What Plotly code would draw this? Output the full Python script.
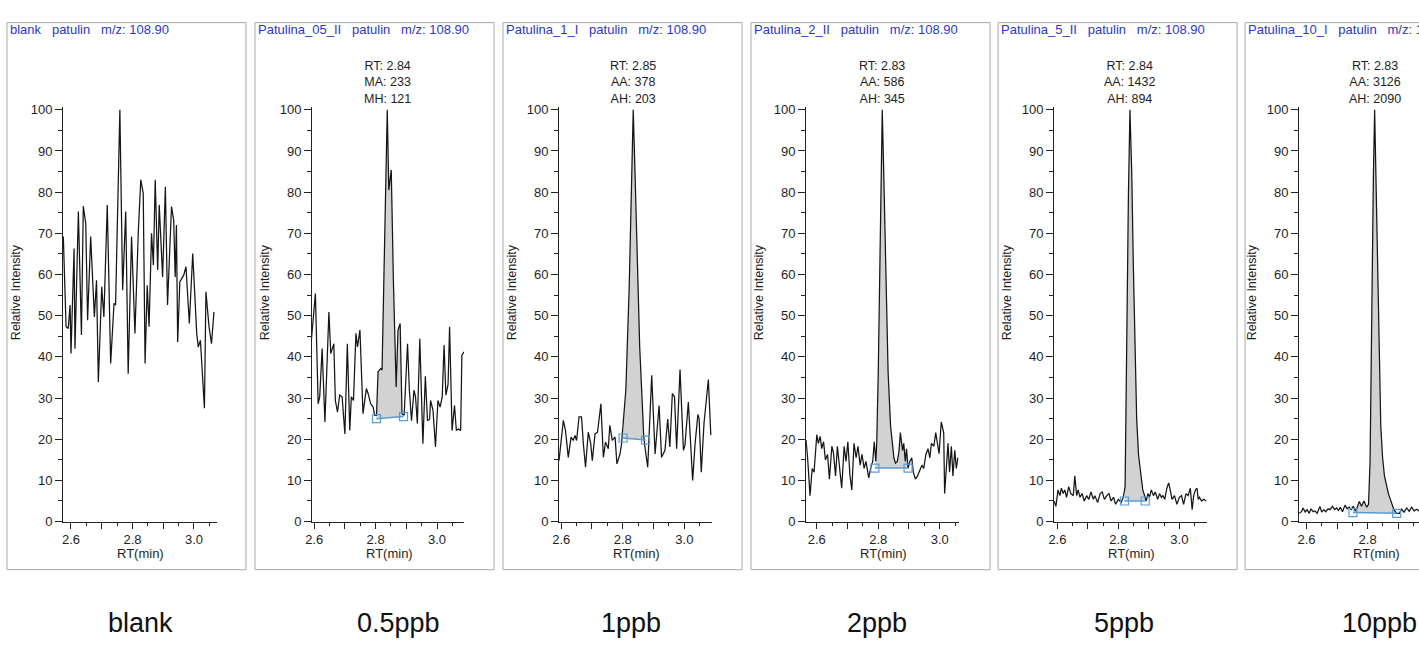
import plotly.graph_objects as go

W, H = 1419, 646

# ---------------- data ----------------
# retention time (min) and relative intensity (%)
rt_blank = [2.575, 2.584, 2.591, 2.597, 2.600, 2.610, 2.613, 2.624, 2.634, 2.640,
            2.648, 2.654, 2.664, 2.673, 2.676, 2.683, 2.689, 2.700, 2.707, 2.718,
            2.729, 2.740, 2.745, 2.759, 2.768, 2.778, 2.786, 2.797, 2.808, 2.819,
            2.827, 2.835, 2.841, 2.848, 2.854, 2.862, 2.868, 2.874, 2.882, 2.887,
            2.898, 2.907, 2.914, 2.927, 2.934, 2.939, 2.943, 2.947, 2.954, 2.967,
            2.974, 2.985, 2.996, 3.009, 3.014, 3.021, 3.034, 3.039, 3.049, 3.057,
            3.065]
int_blank = [69.2, 47.3, 46.9, 52.6, 40.8, 66.3, 42.0, 75.3, 45.3, 76.6,
             72.4, 48.9, 69.2, 57.0, 49.7, 58.6, 33.9, 57.0, 49.7, 76.9,
             38.4, 53.0, 52.6, 100.0, 56.2, 75.3, 35.9, 69.2, 45.7, 70.4,
             83.0, 79.7, 38.4, 57.4, 47.3, 70.0, 62.3, 83.0, 61.1, 76.9,
             59.4, 81.3, 52.6, 76.5, 73.2, 59.4, 72.0, 43.6, 58.2, 59.9,
             61.9, 48.1, 65.1, 45.7, 42.4, 44.0, 27.5, 55.8, 47.3, 43.2,
             50.9]

rt_05 = [2.589, 2.604, 2.613, 2.618, 2.626, 2.635, 2.648, 2.654, 2.664, 2.669,
         2.676, 2.683, 2.691, 2.700, 2.708, 2.716, 2.721, 2.728, 2.736, 2.741,
         2.749, 2.759, 2.770, 2.776, 2.784, 2.792, 2.797, 2.803, 2.808, 2.817,
         2.821, 2.830, 2.838, 2.843, 2.851, 2.858, 2.867, 2.873, 2.880, 2.886,
         2.893, 2.904, 2.910, 2.917, 2.925, 2.930, 2.936, 2.944, 2.954, 2.962,
         2.969, 2.976, 2.979, 2.987, 2.995, 3.003, 3.010, 3.017, 3.023, 3.029,
         3.036, 3.041, 3.049, 3.057, 3.063, 3.070, 3.077, 3.081, 3.088]
int_05 = [42.4, 55.4, 28.6, 30.3, 42.0, 24.2, 50.9, 40.8, 43.2, 29.4,
          26.6, 30.7, 30.3, 21.3, 43.2, 22.1, 30.3, 29.4, 45.7, 42.4,
          46.5, 26.2, 32.3, 31.0, 28.6, 27.8, 25.8, 25.8, 36.4, 37.2,
          36.8, 68.4, 100.0, 80.5, 85.4, 58.6, 32.7, 46.5, 48.1, 26.2,
          25.8, 43.2, 31.9, 24.5, 31.9, 30.3, 23.8, 44.4, 18.9, 35.3,
          24.5, 24.9, 29.4, 27.0, 18.1, 29.4, 27.8, 30.3, 42.9, 30.7,
          33.3, 47.3, 22.1, 28.2, 22.1, 22.5, 22.1, 40.4, 41.2]

rt_1 = [2.593, 2.607, 2.614, 2.623, 2.632, 2.639, 2.645, 2.650, 2.658, 2.666,
        2.672, 2.679, 2.688, 2.696, 2.701, 2.710, 2.718, 2.729, 2.737, 2.744,
        2.753, 2.758, 2.766, 2.775, 2.781, 2.791, 2.796, 2.803, 2.810, 2.821,
        2.828, 2.834, 2.839, 2.847, 2.855, 2.864, 2.868, 2.872, 2.881, 2.894,
        2.905, 2.918, 2.926, 2.937, 2.946, 2.953, 2.961, 2.968, 2.975, 2.986,
        2.997, 3.002, 3.013, 3.027, 3.035, 3.044, 3.048, 3.055, 3.064, 3.078,
        3.086]
int_1 = [14.8, 24.6, 22.1, 15.6, 20.5, 19.7, 20.9, 19.7, 25.4, 25.4,
         18.9, 13.2, 21.7, 18.9, 14.8, 21.3, 21.7, 28.6, 15.6, 19.3,
         17.7, 23.4, 19.7, 20.5, 14.0, 16.4, 18.9, 25.0, 32.0, 57.2,
         84.2, 100.0, 86.8, 62.4, 42.4, 27.7, 20.7, 18.1, 13.2, 35.5,
         16.4, 28.2, 15.6, 17.3, 24.9, 18.1, 31.1, 30.3, 17.7, 36.9,
         17.3, 18.5, 29.0, 10.0, 19.0, 26.0, 25.0, 12.0, 24.0, 34.5,
         21.0]

rt_2 = [2.565, 2.570, 2.578, 2.585, 2.591, 2.600, 2.605, 2.611, 2.616, 2.622,
        2.628, 2.635, 2.641, 2.649, 2.654, 2.661, 2.667, 2.674, 2.681, 2.689,
        2.695, 2.701, 2.708, 2.714, 2.721, 2.728, 2.734, 2.741, 2.747, 2.754,
        2.760, 2.769, 2.775, 2.782, 2.787, 2.792, 2.795, 2.800, 2.805, 2.811,
        2.813, 2.818, 2.825, 2.832, 2.840, 2.846, 2.851, 2.856, 2.862, 2.867,
        2.872, 2.879, 2.883, 2.888, 2.892, 2.897, 2.903, 2.909, 2.914, 2.921,
        2.928, 2.935, 2.942, 2.948, 2.955, 2.962, 2.968, 2.973, 2.981, 2.987,
        2.991, 2.998, 3.005, 3.013, 3.016, 3.022, 3.027, 3.032, 3.038, 3.043,
        3.049, 3.054, 3.059]
int_2 = [19.8, 15.5, 6.3, 12.9, 12.0, 21.1, 19.0, 20.7, 17.7, 19.4,
         15.0, 16.3, 10.3, 18.3, 16.8, 11.1, 18.3, 12.9, 8.1, 18.3,
         14.6, 19.4, 11.1, 7.7, 19.0, 15.5, 18.3, 13.7, 16.3, 12.9,
         14.6, 10.6, 12.9, 14.6, 19.4, 14.6, 19.0, 36.3, 62.4, 90.0,
         100.0, 84.2, 58.1, 36.3, 23.3, 19.0, 15.5, 14.2, 14.6, 16.8,
         21.6, 17.3, 19.0, 14.6, 17.7, 12.9, 14.6, 15.5, 12.0, 10.3,
         11.1, 12.4, 13.7, 12.9, 16.3, 17.7, 15.5, 19.0, 18.3, 21.6,
         19.5, 16.5, 24.2, 21.6, 6.8, 14.6, 19.0, 12.0, 18.3, 11.1,
         17.3, 12.9, 15.5]

rt_5 = [2.589, 2.595, 2.602, 2.608, 2.613, 2.619, 2.624, 2.630, 2.637, 2.644,
        2.652, 2.657, 2.663, 2.668, 2.674, 2.681, 2.688, 2.696, 2.703, 2.710,
        2.718, 2.723, 2.732, 2.740, 2.747, 2.754, 2.762, 2.769, 2.776, 2.784,
        2.791, 2.800, 2.809, 2.816, 2.822, 2.827, 2.833, 2.838, 2.844, 2.849,
        2.855, 2.860, 2.866, 2.874, 2.880, 2.886, 2.891, 2.897, 2.902, 2.908,
        2.915, 2.921, 2.929, 2.935, 2.941, 2.946, 2.952, 2.959, 2.965, 2.970,
        2.976, 2.984, 2.992, 3.000, 3.007, 3.014, 3.022, 3.029, 3.036, 3.042,
        3.047, 3.053, 3.058, 3.062, 3.066, 3.073, 3.080, 3.088]
int_5 = [5.0, 3.7, 7.7, 6.3, 8.1, 6.8, 7.7, 5.9, 8.5, 6.8,
         6.3, 11.1, 6.3, 7.7, 5.9, 6.8, 5.0, 6.3, 5.4, 7.2,
         5.4, 6.3, 4.6, 6.8, 7.2, 5.4, 6.3, 6.8, 5.0, 5.9,
         4.2, 5.4, 4.6, 5.9, 8.5, 45.0, 79.8, 100.0, 84.2, 62.4,
         40.7, 25.0, 16.3, 11.1, 7.7, 6.3, 5.0, 6.8, 5.9, 7.7,
         6.3, 7.2, 5.4, 6.8, 5.9, 6.3, 5.4, 8.1, 9.4, 7.7,
         5.4, 6.3, 4.2, 5.9, 6.3, 4.2, 6.8, 6.3, 8.1, 2.9,
         6.3, 7.7, 8.1, 5.4, 5.9, 5.0, 5.4, 5.0]

rt_10 = [2.576, 2.584, 2.589, 2.596, 2.602, 2.609, 2.615, 2.622, 2.628, 2.635,
         2.644, 2.650, 2.657, 2.663, 2.671, 2.677, 2.685, 2.692, 2.698, 2.705,
         2.711, 2.718, 2.726, 2.733, 2.740, 2.746, 2.753, 2.760, 2.766, 2.773,
         2.780, 2.788, 2.797, 2.803, 2.808, 2.813, 2.819, 2.823, 2.827, 2.833,
         2.838, 2.843, 2.849, 2.855, 2.868, 2.879, 2.886, 2.895, 2.904, 2.911,
         2.919, 2.928, 2.936, 2.944, 2.952, 2.961, 2.968, 2.976]
int_10 = [2.0, 2.4, 3.3, 2.3, 2.9, 2.0, 3.1, 2.4, 2.6, 2.0,
          3.7, 2.3, 2.9, 2.4, 3.1, 2.9, 3.7, 2.9, 3.3, 2.7,
          3.5, 2.4, 4.0, 3.1, 3.5, 2.9, 3.7, 2.6, 3.5, 4.9,
          3.7, 5.0, 3.5, 4.2, 14.6, 53.7, 84.2, 100.0, 84.2, 58.1,
          36.3, 23.3, 15.5, 11.1, 6.8, 4.6, 2.9, 2.0, 2.0, 3.0,
          2.3, 3.3, 2.5, 3.5, 2.6, 3.0, 2.6, 3.0]

# integration baselines (start/end RT, intensity)
base_05 = ([2.803, 2.891], [25.0, 25.5])
base_1 = ([2.801, 2.874], [20.3, 19.8])
base_2 = ([2.789, 2.897], [13.0, 13.0])
base_5 = ([2.820, 2.888], [5.0, 5.0])
base_10 = ([2.752, 2.895], [2.2, 2.0])

sample_names = ["blank", "Patulina_05_II", "Patulina_1_I", "Patulina_2_II",
                "Patulina_5_II", "Patulina_10_I"]
peak_labels = [None,
               "RT: 2.84<br>MA: 233<br>MH: 121",
               "RT: 2.85<br>AA: 378<br>AH: 203",
               "RT: 2.83<br>AA: 586<br>AH: 345",
               "RT: 2.84<br>AA: 1432<br>AH: 894",
               "RT: 2.83<br>AA: 3126<br>AH: 2090"]
conc_labels = ["blank", "0.5ppb", "1ppb", "2ppb", "5ppb", "10ppb"]

series = [(rt_blank, int_blank, None), (rt_05, int_05, base_05), (rt_1, int_1, base_1),
          (rt_2, int_2, base_2), (rt_5, int_5, base_5), (rt_10, int_10, base_10)]

# ---------------- layout geometry (pixels, as seen in the target picture) ----------------
frame_left = [7, 255, 503, 751, 998, 1245]
frame_w = 239
frame_top, frame_bot = 23, 569
axis_px = [(63, 217), (312, 464), (559, 712), (806, 959), (1054, 1207), (1299, 1419)]
x_ranges = [(2.574, 3.075), (2.593, 3.088), (2.593, 3.090), (2.565, 3.063),
            (2.589, 3.091), (2.576, 2.968)]
conc_x = [140, 398, 631, 877, 1124, 1379]
y_bot_px, y_top_px = 521, 107.5   # value 0 and 100.6

# the captured page comes out slightly shifted/shrunk; undo that here
OFF_X, OFF_Y, SX, SY = 7.0, 5.4, 0.995, 0.978

FONT = "Liberation Sans, Arial, sans-serif"
TXT = "#1e1e1e"
BLUE_T = "#2b36c9"
BASE_C = "#5b9bd3"


def px(x):
    return min(1.0, max(0.0, (x - OFF_X) / SX / W))


def py(y):
    return 1 - (y - OFF_Y) / SY / H


def peak_area(rt, inten, base):
    b_rt, b_int = base
    xs, ys = [b_rt[0]], [b_int[0]]
    for t, v in zip(rt, inten):
        if b_rt[0] < t < b_rt[1]:
            xs.append(t)
            ys.append(v)
    xs.append(b_rt[1])
    ys.append(b_int[1])
    return xs, ys


fig = go.Figure()
annotations = []
shapes = []

for i, (rt, inten, base) in enumerate(series):
    n = i + 1
    xa, ya = f"x{n}", f"y{n}"
    if base is not None:
        ax_, ay_ = peak_area(rt, inten, base)
        fig.add_trace(go.Scatter(x=ax_, y=ay_, xaxis=xa, yaxis=ya, mode="lines",
                                 fill="toself", fillcolor="#d2d2d2",
                                 line=dict(width=0), hoverinfo="skip", showlegend=False))
    fig.add_trace(go.Scatter(x=rt, y=inten, xaxis=xa, yaxis=ya, mode="lines",
                             line=dict(color="#151515", width=1.25),
                             hoverinfo="skip", showlegend=False))
    if base is not None:
        fig.add_trace(go.Scatter(x=base[0], y=base[1], xaxis=xa, yaxis=ya,
                                 mode="lines+markers",
                                 line=dict(color=BASE_C, width=1.5),
                                 marker=dict(symbol="square-open", size=8, color=BASE_C,
                                             line=dict(width=1.2, color=BASE_C)),
                                 hoverinfo="skip", showlegend=False))

    x0, x1 = axis_px[i]
    fig.update_layout(**{
        f"xaxis{n}": dict(domain=[px(x0), px(x1)], range=list(x_ranges[i]), anchor=ya,
                          showline=True, linecolor="#222", linewidth=1,
                          showgrid=False, zeroline=False,
                          tickmode="array", tickvals=[2.6, 2.7, 2.8, 2.9, 3.0],
                          ticktext=["2.6", "", "2.8", "", "3.0"],
                          ticks="outside", ticklen=6, tickcolor="#222",
                          minor=dict(tickmode="linear", tick0=2.55, dtick=0.05,
                                     ticks="outside", ticklen=3, tickcolor="#222"),
                          tickfont=dict(family=FONT, size=13, color=TXT)),
        f"yaxis{n}": dict(domain=[py(y_bot_px), py(y_top_px)], range=[0, 100.6], anchor=xa,
                          showline=True, linecolor="#222", linewidth=1,
                          showgrid=False, zeroline=False,
                          tickmode="linear", tick0=0, dtick=10,
                          ticks="outside", ticklen=7, tickcolor="#222",
                          minor=dict(dtick=5, ticks="outside", ticklen=4, tickcolor="#222"),
                          tickfont=dict(family=FONT, size=13, color=TXT)),
    })

    # panel frame
    fl = frame_left[i]
    shapes.append(dict(type="rect", xref="paper", yref="paper",
                       x0=px(fl), x1=(fl + frame_w - OFF_X) / SX / W,
                       y0=py(frame_bot), y1=py(frame_top),
                       line=dict(color="#a9a9a9", width=1), layer="below"))
    # panel header
    annotations.append(dict(xref="paper", yref="paper", x=px(fl + 1), y=py(30),
                            xanchor="left", yanchor="middle", showarrow=False,
                            text=f"{sample_names[i]}&nbsp;&nbsp;&nbsp;patulin&nbsp;&nbsp;&nbsp;m/z: 108.90",
                            font=dict(family=FONT, size=13, color=BLUE_T)))
    # axis titles
    annotations.append(dict(xref="paper", yref="paper", x=px(x0 - 47), y=py(292),
                            xanchor="center", yanchor="middle", showarrow=False,
                            textangle=-90, text="Relative Intensity",
                            font=dict(family=FONT, size=12.5, color=TXT)))
    annotations.append(dict(xref="paper", yref="paper", x=px(x0 + 77), y=py(553),
                            xanchor="center", yanchor="middle", showarrow=False,
                            text="RT(min)", font=dict(family=FONT, size=13, color=TXT)))
    # peak label above apex
    if peak_labels[i]:
        apex = rt[inten.index(max(inten))]
        annotations.append(dict(xref=xa, yref="paper", x=apex, y=py(83),
                                xanchor="center", yanchor="middle", showarrow=False,
                                align="center", text=peak_labels[i],
                                font=dict(family=FONT, size=12.5, color=TXT)))
    # concentration label below
    annotations.append(dict(xref="paper", yref="paper", x=px(conc_x[i]), y=py(622),
                            xanchor="center", yanchor="middle", showarrow=False,
                            text=conc_labels[i], font=dict(family=FONT, size=27, color="#111")))

fig.update_layout(width=W, height=H, margin=dict(l=0, r=0, t=0, b=0),
                  paper_bgcolor="white", plot_bgcolor="white",
                  annotations=annotations, shapes=shapes, showlegend=False)

# page body has a default margin; drop it so the figure sits at the window corner
fig.write_html("out.html", config={"displayModeBar": False},
               post_script="document.body.style.margin='0';document.body.style.overflow='hidden';")
